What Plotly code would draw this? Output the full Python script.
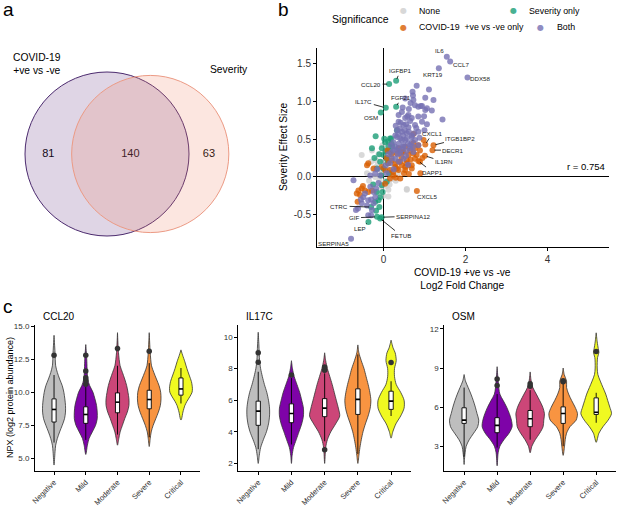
import math
import plotly.graph_objects as go

W, H = 617, 508
FONT = "Liberation Sans, Arial, sans-serif"

# ---------------- panel a: venn counts ----------------
venn_sets = ["COVID-19<br>+ve vs -ve", "Severity"]
venn_only_a = 81
venn_both = 140
venn_only_b = 63

# ---------------- panel b: scatter (log2 FC, severity effect) ----------------
none_x = [-0.53, -0.28, 0.57, 0.12, 0.12, -0.15, -0.05, 0.05, 0.10, -0.10, 0.20, 0.15, -0.20, 0.00, 0.25,
          -0.25, 0.30, -0.05, 0.10, -0.30, 0.05, 0.20, -0.12, 0.35, -0.35, 0.00, -0.15, 0.08, -0.08, 0.18,
          -0.40, 0.28, -0.02, 0.15, -0.18, 0.57]
none_y = [0.29, 0.35, -0.16, -0.26, -0.17, 0.15, 0.05, -0.05, 0.10, -0.05, 0.05, -0.10, 0.00, 0.20, 0.15,
          0.10, -0.05, -0.15, 0.25, 0.20, 0.35, 0.30, 0.30, 0.05, -0.05, -0.25, -0.22, -0.12, 0.10, -0.03,
          0.05, 0.22, 0.42, 0.20, 0.22, -0.17]

sev_x = [0.139, 0.31, 0.058, 0.31, -0.065, -0.30, -0.155, -0.045, -0.08, -0.366,
         -0.19, 0.02, 0.19, 0.33, 0.20, -0.04, 0.12, 0.16, 0.00, 0.08, -0.08, -0.16, 0.00, 0.08, -0.04,
         -0.12, -0.08, -0.20, -0.16, 0.16, 0.04, -0.10, 0.05, -0.22, 0.10, -0.05, 0.14, -0.25, -0.10,
         -0.18, 0.22, 0.12, -0.02, -0.28]
sev_y = [1.231, 1.275, 0.916, 0.93, 0.855, -0.40, -0.53, -0.535, -0.553, -0.598,
         0.54, 0.505, 0.51, 0.62, 0.44, 0.38, 0.40, 0.33, 0.29, 0.24, 0.20, 0.11, 0.11, -0.066, -0.11,
         -0.31, -0.27, -0.33, -0.20, 0.51, 0.46, 0.30, 0.34, 0.25, 0.18, 0.02, 0.05, -0.10, -0.40,
         -0.45, 0.40, 0.47, -0.20, 0.38]

cov_x = [1.02, 1.22, 1.195, 1.01, 0.853, 0.815,
         0.41, 0.57, 0.53, 0.69, 0.81, 0.89, 0.33, 0.16, 0.24, 0.85, 0.98, 0.89, 0.49, 0.61, -0.40, -0.24,
         -0.04, -0.61, -0.53, -0.45, -0.37, -0.57, -0.28, 0.41, 0.16, 0.04, 0.73, 0.77, 0.37, 0.45, 0.61,
         0.29, 0.37, 0.53, 0.69, 0.20, 0.24, 0.12, 0.65, 0.45, 0.33, 0.53, 0.37, 0.04, -0.37, 0.77, 0.73,
         0.73, 0.50, 0.62, 0.30, 0.08, 0.95, 0.56, 0.44, 0.66, 0.28, -0.50, -0.65, 0.10, 0.90, 0.20, -0.63]
cov_y = [0.43, 0.42, 0.355, 0.28, 0.21, -0.186,
         0.20, 0.22, 0.13, 0.155, 0.29, 0.20, 0.11, 0.09, 0.02, 0.42, 0.49, 0.35, 0.33, 0.29, 0.155, 0.11,
         0.13, -0.18, -0.155, -0.18, -0.20, -0.24, -0.18, -0.02, -0.02, -0.09, 0.31, 0.24, 0.20, 0.155, 0.155,
         0.13, 0.09, 0.09, 0.11, 0.22, 0.066, 0.18, 0.35, 0.33, 0.31, 0.40, 0.38, 0.09, 0.18, 0.38, 0.57,
         0.45, 0.05, 0.04, -0.01, 0.25, 0.25, 0.18, 0.26, 0.23, 0.17, -0.12, -0.22, 0.35, 0.05, 0.30, -0.33]

both_x = [1.545, 1.627, 1.351, 2.05, -0.79,
          0.81, 0.71, 0.72, 0.73, 1.02, 0.85, 1.06, 1.11, 1.22, 0.94, 1.02, 1.18, 0.99, 1.44, 0.94, 1.06,
          0.53, 0.66, 0.77, 0.45, 0.61, 0.53, 0.69, 0.85, 0.37, 0.49, 0.61, 0.77, 0.33, 0.45, 0.57, 0.69,
          0.85, 0.29, 0.41, 0.53, 0.69, 0.37, 0.24, 0.49, 0.65, 0.33, 0.77, 0.85, 0.37, 0.91,
          0.33, 0.45, 0.57, 0.69, 0.49, 0.65, 0.37, 0.57, 0.20, 0.41, 0.73, 0.29, 0.49, 0.16,
          -0.73, -0.49, -0.32, -0.24, -0.20, -0.37, -0.24, -0.53, -0.40, -0.28, -0.67, -0.37, -0.30, -0.20,
          -0.08, -0.32,
          0.30, 0.42, 0.55, 0.65, 0.40, 0.52, 0.62, 0.75, 0.28, 0.44, 0.60, 0.72, 0.35, 0.55, 0.25, 0.18,
          0.48, 0.36, 0.80, 0.58, 0.47, 0.62, 0.88, 1.00, 0.20, 0.12, 0.38, 0.60, 0.08, 0.25, -0.12, -0.45,
          -0.15, -0.55, -0.30, -0.62, -0.18, 0.05]
both_y = [1.594, 1.532, 1.44, 1.32, -0.82,
          1.21, 1.13, 1.08, 1.02, 1.05, 0.93, 0.91, 1.16, 1.02, 0.94, 0.886, 0.88, 0.806, 0.76, 0.73, 0.70,
          1.04, 0.98, 0.95, 0.86, 0.82, 0.78, 0.78, 0.80, 0.73, 0.69, 0.66, 0.69, 0.62, 0.60, 0.58, 0.55,
          0.60, 0.55, 0.51, 0.49, 0.46, 0.44, 0.46, 0.40, 0.38, 0.35, 0.49, 0.42, 0.82, 0.94,
          0.53, 0.49, 0.51, 0.53, 0.42, 0.42, 0.38, 0.35, 0.33, 0.31, 0.33, 0.24, 0.24, 0.18,
          -0.044, -0.27, -0.13, -0.20, -0.27, -0.31, -0.35, -0.35, -0.38, -0.44, -0.44, -0.51, -0.51, 0.045,
          0.02, 0.02,
          0.68, 0.72, 0.70, 0.74, 0.64, 0.62, 0.60, 0.58, 0.40, 0.36, 0.44, 0.40, 0.30, 0.28, 0.36, 0.42,
          0.55, 0.57, 0.65, 0.80, 0.92, 0.90, 0.52, 0.62, 0.25, 0.30, 0.20, 0.16, 0.05, 0.10, -0.08, -0.22,
          0.10, -0.30, -0.30, -0.42, -0.15, 0.15]

label_genes = ["IL6", "CCL7", "KRT19", "DDX58", "CCL20", "IGFBP1", "IL17C", "FGF21", "OSM", "CXCL1",
               "ITGB1BP2", "DECR1", "IL1RN", "DAPP1", "CXCL5", "CTRC", "GIF", "SERPINA12", "FETUB", "LEP",
               "SERPINA5"]
label_x = [1.545, 1.627, 1.351, 2.05, 0.139, 0.31, 0.058, 0.31, -0.065, 1.02,
           1.22, 1.195, 1.01, 0.853, 0.815, -0.30, -0.155, -0.045, -0.08, -0.366, -0.79]
label_y = [1.594, 1.532, 1.44, 1.32, 1.231, 1.275, 0.916, 0.93, 0.855, 0.43,
           0.42, 0.355, 0.28, 0.21, -0.186, -0.40, -0.53, -0.535, -0.553, -0.598, -0.82]
corr_r = 0.754

# ---------------- panel c: violins ----------------
groups = ["Negative", "Mild", "Moderate", "Severe", "Critical"]

ccl20_dens = {
    "Negative": ([4.5, 5.5, 6, 6.5, 7, 7.5, 8, 8.5, 9, 9.5, 10, 10.5, 11, 11.5, 12, 13, 14.3],
                 [0, 3, 5, 10, 17, 25, 32, 35, 35, 33, 30, 25, 17, 10, 5, 3, 0]),
    "Mild": ([5.3, 6, 6.5, 7, 7.5, 8, 8.5, 9, 9.5, 10, 10.5, 11, 12.5, 13.6],
             [0, 5, 10, 20, 30, 35, 35, 33, 28, 22, 12, 6, 3, 0]),
    "Moderate": ([6, 6.5, 7, 7.5, 8, 8.5, 9, 9.5, 10, 10.5, 11, 11.5, 12, 13, 14.5],
                 [0, 4, 8, 15, 22, 30, 35, 35, 32, 28, 22, 15, 8, 3, 0]),
    "Severe": ([5.9, 6.5, 7, 7.5, 8, 8.5, 9, 9.5, 10, 10.5, 11, 11.5, 12, 13, 14.5],
               [0, 3, 6, 12, 20, 28, 34, 36, 35, 30, 22, 14, 7, 3, 0]),
    "Critical": ([7.9, 8, 8.5, 9, 9.3, 9.7, 10, 10.3, 10.8, 11.3, 11.8, 12.3, 12.8, 13.2],
                 [0, 2, 6, 12, 18, 28, 34, 35, 32, 25, 18, 12, 5, 0]),
}
ccl20_q1 = [7.75, 7.65, 8.45, 8.75, 9.78]
ccl20_med = [8.7, 8.32, 9.25, 9.45, 10.25]
ccl20_q3 = [9.5, 8.9, 9.95, 10.15, 11.08]
ccl20_lo = [6.2, 6.4, 6.8, 6.6, 9.15]
ccl20_hi = [11.3, 10.4, 12.0, 12.2, 11.83]
ccl20_out_g = ["Negative", "Mild", "Mild", "Mild", "Mild", "Mild", "Moderate", "Severe"]
ccl20_out_v = [12.8, 10.6, 10.9, 11.1, 11.6, 12.8, 13.3, 13.1]

il17c_dens = {
    "Negative": ([2, 2.5, 3, 3.5, 4, 4.5, 5, 5.5, 6, 6.5, 7, 7.5, 8, 8.5, 9.5, 10.3],
                 [0, 3, 7, 15, 24, 30, 33, 33, 30, 25, 18, 12, 7, 4, 2, 0]),
    "Mild": ([2, 2.5, 3, 3.5, 4, 4.5, 5, 5.5, 6, 6.5, 7, 7.5, 8, 8.5],
             [0, 2, 6, 14, 22, 30, 35, 35, 30, 24, 16, 8, 3, 0]),
    "Moderate": ([2, 3, 3.5, 4, 4.5, 5, 5.5, 6, 6.5, 7, 7.5, 8, 8.5, 9],
                 [0, 3, 8, 18, 32, 44, 40, 34, 28, 22, 15, 8, 3, 0]),
    "Severe": ([2, 2.5, 3, 3.5, 4, 4.5, 5, 5.5, 6, 6.5, 7, 7.5, 8, 8.5, 9, 9.5],
               [0, 3, 6, 10, 15, 22, 30, 36, 38, 35, 30, 24, 18, 10, 3, 0]),
    "Critical": ([3.6, 4, 4.5, 5, 5.5, 6, 6.5, 7, 7.5, 8, 8.5, 9, 9.3, 9.8],
                 [0, 5, 14, 28, 38, 38, 28, 15, 10, 10, 15, 12, 6, 0]),
}
il17c_q1 = [4.41, 4.58, 4.96, 5.1, 5.42]
il17c_med = [5.31, 5.16, 5.5, 6.05, 5.94]
il17c_q3 = [5.94, 5.77, 6.1, 6.72, 6.57]
il17c_lo = [2.9, 3.2, 3.4, 2.6, 5.0]
il17c_hi = [7.8, 7.4, 7.7, 8.9, 7.2]
il17c_out_g = ["Negative", "Negative", "Mild", "Moderate", "Moderate", "Moderate", "Critical"]
il17c_out_v = [8.4, 9.0, 7.6, 2.86, 7.9, 8.1, 8.39]

osm_dens = {
    "Negative": ([1.6, 2, 2.5, 3, 3.5, 4, 4.5, 5, 5.5, 6, 6.5, 7, 7.5, 8, 8.5],
                 [0, 1, 3, 6, 15, 28, 40, 43, 38, 33, 27, 20, 12, 4, 0]),
    "Mild": ([1.5, 2.5, 3, 3.5, 4, 4.5, 5, 5.5, 6, 6.5, 7, 8, 9.1],
             [0, 3, 8, 20, 35, 44, 42, 36, 28, 18, 8, 3, 0]),
    "Moderate": ([2.5, 3, 3.5, 4, 4.5, 5, 5.5, 6, 6.5, 7, 7.5, 8, 8.7],
                 [0, 5, 15, 28, 38, 40, 42, 37, 28, 18, 8, 3, 0]),
    "Severe": ([2.3, 3, 3.5, 4, 4.5, 5, 5.5, 6, 6.5, 7, 7.5, 8, 8.5, 9],
               [0, 4, 6, 10, 20, 38, 42, 35, 25, 16, 10, 10, 3, 0]),
    "Critical": ([3.3, 4, 4.5, 5, 5.5, 6, 6.5, 7, 7.5, 8, 8.5, 9, 9.8, 10.2, 10.5, 11, 11.7],
                 [0, 8, 20, 35, 45, 40, 34, 28, 20, 12, 5, 3, 4, 8, 6, 3, 0]),
}
osm_q1 = [4.75, 4.04, 4.5, 4.75, 5.44]
osm_med = [5.0, 4.6, 5.11, 5.51, 5.61]
osm_q3 = [5.95, 5.19, 5.74, 6.02, 6.71]
osm_lo = [2.2, 2.9, 3.5, 3.0, 4.8]
osm_hi = [7.5, 7.0, 7.3, 7.8, 7.1]
osm_out_g = ["Mild", "Mild", "Moderate", "Moderate", "Severe", "Severe", "Critical"]
osm_out_v = [7.65, 8.16, 7.6, 7.8, 7.95, 8.03, 10.26]

# ---------------- styling ----------------
group_colors = ["#BEBEBE", "#7E03A8", "#CC4678", "#F89441", "#F0F921"]
sig_names = ["None", "Severity only", "COVID-19  +ve vs -ve only", "Both"]
sig_colors = ["#CFCFCF", "#1B9E77", "#D95F02", "#7570B3"]
# legend key placement (pixels): marker x, text x, row y
legend_pos = [(403, 417, 11), (513, 527, 11), (403, 417, 27), (540, 555, 27)]
DENS_SCALE = 1 / 97.0
BOX_HALF = 0.065


def px_x(p):
    return p / W


def px_y(p):
    return 1 - p / H


def paper_text(x, y, text, size, xanchor="center", angle=0, color="black", family=FONT, opacity=1):
    return dict(x=px_x(x), y=px_y(y), xref="paper", yref="paper", text=text, showarrow=False,
                xanchor=xanchor, yanchor="middle", textangle=angle, opacity=opacity,
                font=dict(size=size, color=color, family=family))


fig = go.Figure()

# ---------- panel a: area-proportional venn ----------
def lens_area(r1, r2, d):
    if d >= r1 + r2:
        return 0.0
    if d <= abs(r1 - r2):
        return math.pi * min(r1, r2) ** 2
    a1 = r1 ** 2 * math.acos((d * d + r1 * r1 - r2 * r2) / (2 * d * r1))
    a2 = r2 ** 2 * math.acos((d * d + r2 * r2 - r1 * r1) / (2 * d * r2))
    k = 0.5 * math.sqrt((-d + r1 + r2) * (d + r1 - r2) * (d - r1 + r2) * (d + r1 + r2))
    return a1 + a2 - k


tot_a = venn_only_a + venn_both
tot_b = venn_only_b + venn_both
r_a = 82.0
r_b = r_a * math.sqrt(tot_b / tot_a)
target = venn_both / tot_a * math.pi * r_a ** 2
lo_d, hi_d = abs(r_a - r_b), r_a + r_b
for _ in range(60):
    mid = (lo_d + hi_d) / 2
    if lens_area(r_a, r_b, mid) > target:
        lo_d = mid
    else:
        hi_d = mid
dist = (lo_d + hi_d) / 2
cxa, cy = 107.0, 154.0
cxb = cxa + dist

shapes = [
    dict(type="circle", xref="x5", yref="y5", x0=cxa - r_a, x1=cxa + r_a, y0=cy - r_a, y1=cy + r_a,
         fillcolor="rgba(95,45,125,0.2)", line=dict(color="#4B2A6E", width=1)),
    dict(type="circle", xref="x5", yref="y5", x0=cxb - r_b, x1=cxb + r_b, y0=cy - r_b, y1=cy + r_b,
         fillcolor="rgba(240,128,100,0.2)", line=dict(color="#EC9A84", width=1)),
]
venn_text_x = [(cxa - r_a + cxb - r_b) / 2, (cxb - r_b + cxa + r_a) / 2, (cxa + r_a + cxb + r_b) / 2]
venn_text = [str(venn_only_a), str(venn_both), str(venn_only_b)]
fig.add_trace(go.Scatter(x=venn_text_x, y=[cy] * 3, text=venn_text, mode="text",
                         textfont=dict(size=11, color="black", family=FONT),
                         xaxis="x5", yaxis="y5", showlegend=False, hoverinfo="skip"))

# ---------- panel b: scatter ----------
for name, col, xs, ys in zip(sig_names, sig_colors, [none_x, sev_x, cov_x, both_x],
                             [none_y, sev_y, cov_y, both_y]):
    fig.add_trace(go.Scatter(x=xs, y=ys, mode="markers", name=name, showlegend=False,
                             marker=dict(size=6, color=col, opacity=0.8, line=dict(width=0)),
                             xaxis="x", yaxis="y"))

label_off = {"IL6": (-7, -6, False), "CCL7": (11, 3, False), "KRT19": (-6, 6, False),
             "DDX58": (13, 1, False), "CCL20": (-18, 0, True), "IGFBP1": (4, -10, True),
             "IL17C": (-22, -6, True), "FGF21": (5, -9, True), "OSM": (-10, 5, False),
             "CXCL1": (7, -11, True), "ITGB1BP2": (27, -7, True), "DECR1": (21, 0, True),
             "IL1RN": (19, 6, True), "DAPP1": (14, 11, True), "CXCL5": (11, 6, False),
             "CTRC": (-32, -1, True), "GIF": (-23, 1, True), "SERPINA12": (32, -1, True),
             "FETUB": (21, 17, True), "LEP": (-8, 7, True), "SERPINA5": (-18, 5, False)}
annotations = []
for g, gx, gy in zip(label_genes, label_x, label_y):
    dx, dy, line = label_off[g]
    base = dict(x=gx, y=gy, xref="x", yref="y", text=g, xanchor="center", yanchor="middle",
                font=dict(size=6.2, color="#222", family=FONT))
    if line:
        base.update(showarrow=True, arrowhead=0, arrowwidth=0.8, arrowcolor="black",
                    ax=dx, ay=dy, standoff=2)
    else:
        base.update(showarrow=False, xshift=dx, yshift=-dy)
    annotations.append(base)

annotations.append(dict(x=5.45, y=0.0, xref="x", yref="y", text="r = %.3f" % corr_r, showarrow=False,
                        xanchor="right", yanchor="bottom", yshift=3,
                        font=dict(size=9.5, color="black", family=FONT)))

# legend keys drawn as text so they do not push the margins
for name, col, (mx_, tx_, ry) in zip(sig_names, sig_colors, legend_pos):
    annotations.append(paper_text(mx_, ry, "\u25cf", 8, color=col, family="DejaVu Sans", opacity=0.8))
    annotations.append(paper_text(tx_, ry, name, 8.8, xanchor="left"))

# ---------- panel c: violins ----------
panels = [("CCL20", ccl20_dens, ccl20_q1, ccl20_med, ccl20_q3, ccl20_lo, ccl20_hi, ccl20_out_g, ccl20_out_v),
          ("IL17C", il17c_dens, il17c_q1, il17c_med, il17c_q3, il17c_lo, il17c_hi, il17c_out_g, il17c_out_v),
          ("OSM", osm_dens, osm_q1, osm_med, osm_q3, osm_lo, osm_hi, osm_out_g, osm_out_v)]

for k, (title, dens, q1, med, q3, lo, hi, og, ov) in enumerate(panels):
    xa, ya = "x%d" % (k + 2), "y%d" % (k + 2)
    for i, g in enumerate(groups):
        ys, ws = dens[g]
        pos = i + 1
        vx = [pos + w * DENS_SCALE for w in ws] + [pos - w * DENS_SCALE for w in ws[::-1]]
        vy = list(ys) + list(ys[::-1])
        fig.add_trace(go.Scatter(x=vx, y=vy, mode="lines", fill="toself", fillcolor=group_colors[i],
                                 line=dict(color="#333333", width=0.8, shape="spline", smoothing=0.8),
                                 xaxis=xa, yaxis=ya, showlegend=False, hoverinfo="skip"))
    # boxplots drawn on top of the violins
    wx, wy, bx, by, mx, my = [], [], [], [], [], []
    for i in range(len(groups)):
        pos = i + 1
        wx += [pos, pos, None, pos, pos, None]
        wy += [lo[i], q1[i], None, q3[i], hi[i], None]
        bx += [pos - BOX_HALF, pos + BOX_HALF, pos + BOX_HALF, pos - BOX_HALF, pos - BOX_HALF, None]
        by += [q1[i], q1[i], q3[i], q3[i], q1[i], None]
        mx += [pos - BOX_HALF, pos + BOX_HALF, None]
        my += [med[i], med[i], None]
    fig.add_trace(go.Scatter(x=wx, y=wy, mode="lines", line=dict(color="black", width=0.9),
                             xaxis=xa, yaxis=ya, showlegend=False, hoverinfo="skip"))
    fig.add_trace(go.Scatter(x=bx, y=by, mode="lines", fill="toself", fillcolor="white",
                             line=dict(color="black", width=0.9),
                             xaxis=xa, yaxis=ya, showlegend=False, hoverinfo="skip"))
    fig.add_trace(go.Scatter(x=mx, y=my, mode="lines", line=dict(color="black", width=1.6),
                             xaxis=xa, yaxis=ya, showlegend=False, hoverinfo="skip"))
    fig.add_trace(go.Scatter(x=[groups.index(g) + 1 for g in og], y=ov, mode="markers",
                             marker=dict(size=5.5, color="#333333"), xaxis=xa, yaxis=ya,
                             showlegend=False, hoverinfo="skip"))

axis_common = dict(showline=True, linecolor="black", linewidth=1, ticks="outside", ticklen=3,
                   tickcolor="black", showgrid=False, zeroline=False, automargin=False,
                   tickfont=dict(size=7.6, color="#333", family=FONT))

vx_domains = [(35, 200), (238.3, 411), (444.3, 616)]
vy_ranges = [(4.05, 15.08), (1.52, 10.76), (1.1, 12.3)]
vy_ticks = [([5, 7.5, 10, 12.5, 15], ["5.0", "7.5", "10.0", "12.5", "15.0"]),
            ([2, 4, 6, 8, 10], ["2", "4", "6", "8", "10"]),
            ([3, 6, 9, 12], ["3", "6", "9", "12"])]
vtop, vbot = 325, 471
layout_axes = {}
for k in range(3):
    layout_axes["xaxis%d" % (k + 2)] = dict(axis_common, domain=[px_x(vx_domains[k][0]), px_x(vx_domains[k][1])],
                                            range=[0.4, 5.6], tickvals=[1, 2, 3, 4, 5], ticktext=groups,
                                            tickangle=-45, anchor="y%d" % (k + 2))
    layout_axes["yaxis%d" % (k + 2)] = dict(axis_common, domain=[px_y(vbot), px_y(vtop)],
                                            range=list(vy_ranges[k]), tickvals=vy_ticks[k][0],
                                            ticktext=vy_ticks[k][1], anchor="x%d" % (k + 2),
                                            tickfont=dict(size=8, color="#333", family=FONT))
    annotations.append(paper_text(vx_domains[k][0] + 6, 316, panels[k][0], 10, xanchor="left"))

annotations.append(paper_text(10, 398, "NPX (log2 protein abundance)", 9, angle=-90))

# scatter axis titles, legend title, venn labels, panel letters
annotations += [
    paper_text(463, 279, "COVID-19 +ve vs -ve<br>Log2 Fold Change", 10.2),
    paper_text(284, 147, "Severity Effect Size", 10.2, angle=-90),
    paper_text(330, 19, "Significance", 10.5, xanchor="left"),
    paper_text(37, 64, venn_sets[0], 10.3),
    paper_text(229, 70, venn_sets[1], 10.3),
    paper_text(1, 10, "a", 19, xanchor="left"),
    paper_text(276, 10, "b", 19, xanchor="left"),
    paper_text(1, 306, "c", 19, xanchor="left"),
]

fig.update_layout(
    template="none",
    width=W, height=H, autosize=False, margin=dict(l=0, r=0, t=0, b=0, pad=0),
    paper_bgcolor="white", plot_bgcolor="white", showlegend=False,
    font=dict(family=FONT, color="black"),
    xaxis=dict(axis_common, domain=[px_x(317), px_x(609)], range=[-1.62, 5.5], tickvals=[0, 2, 4],
               zeroline=True, zerolinecolor="black", zerolinewidth=1,
               tickfont=dict(size=10, color="#333", family=FONT), anchor="y"),
    yaxis=dict(axis_common, domain=[px_y(247), px_y(48)], range=[-0.93, 1.71],
               tickvals=[-0.5, 0, 0.5, 1, 1.5], ticktext=["-0.5", "0.0", "0.5", "1.0", "1.5"],
               zeroline=True, zerolinecolor="black", zerolinewidth=1,
               tickfont=dict(size=10, color="#333", family=FONT), anchor="x"),
    xaxis5=dict(domain=[0, px_x(240)], range=[0, 240], visible=False, anchor="y5", automargin=False),
    yaxis5=dict(domain=[px_y(300), 1], range=[300, 0], visible=False, anchor="x5", automargin=False),
    shapes=shapes,
    annotations=annotations,
    **layout_axes,
)

fig.write_html("out.html", config={"displayModeBar": False},
               post_script="document.body.style.margin='0';")
